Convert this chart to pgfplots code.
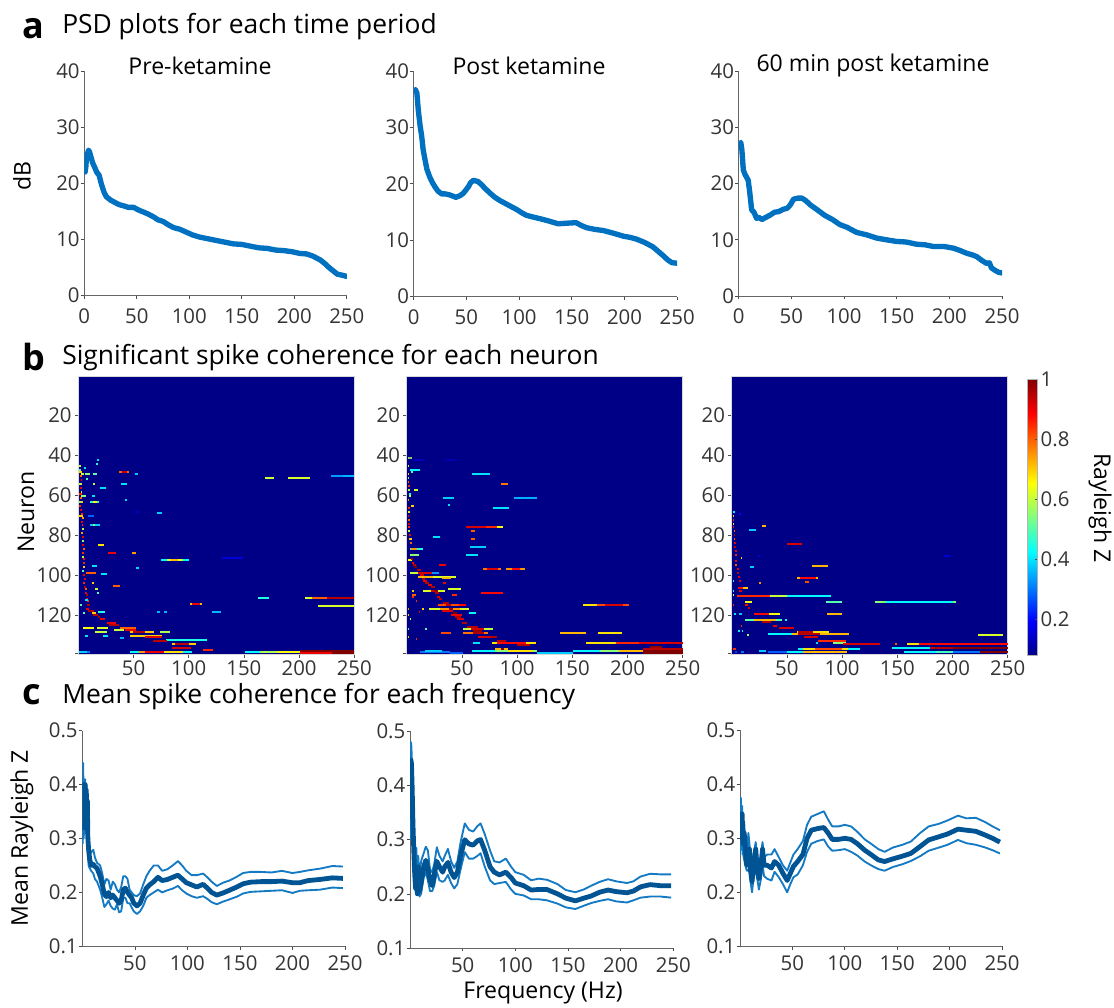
\documentclass[border=0pt]{standalone}
\usepackage{pgfplots}
\usepackage{pgfplotstable}
\usepackage{fontspec}
\setmainfont{Open Sans}
\pgfplotsset{compat=1.18}
\definecolor{psdc}{RGB}{0,112,192}
\definecolor{mdark}{RGB}{0,84,147}
\definecolor{mthin}{RGB}{20,122,196}
\definecolor{txt}{RGB}{52,52,52}
\definecolor{hbg}{RGB}{0,0,135}

% ---------- PSD
\pgfplotstableread{
x y
0.8 22.0
1.5 23.0
2 24.3
3 25.2
4 25.9
5 25.6
6 24.9
8 23.6
9.5 23.0
12 21.9
14 21.5
16.5 19.7
19 18.3
21 17.6
25 17.0
29 16.6
33 16.2
37 16.0
42 15.7
47 15.7
52 15.2
56 14.9
61 14.5
66 14.0
70 13.5
75 13.2
80 12.6
85 12.1
91 11.8
97 11.3
103 10.8
110 10.4
118 10.1
126 9.8
134 9.5
142 9.2
150 9.1
158 8.8
166 8.5
174 8.4
182 8.1
190 8.0
198 7.8
205 7.5
212 7.4
218 7.0
225 6.3
229 5.7
233 5.0
237 4.4
241 3.8
246 3.6
250 3.4
}\PsdA
\pgfplotstableread{
x y
0.5 36.5
1.6 36.7
3 36.1
4.4 33.0
6 30.4
7.6 28.4
9 26.0
10.7 24.3
12.5 22.6
15 21.3
17.5 20.3
20 19.5
23 18.7
26.5 18.2
30 18.2
34.5 18.0
40 17.6
44 17.9
47 18.3
50 19.0
52 19.5
54 20.2
56.6 20.6
61 20.4
64 19.9
67.6 19.2
72 18.4
77 17.6
82 17.0
88 16.4
93 15.9
98 15.4
103 14.8
107 14.4
113 14.1
120 13.8
128 13.4
137 12.9
145 13.0
154 13.1
159 12.6
164 12.2
172 11.9
180 11.7
190 11.2
199 10.7
205 10.5
211 10.2
219 9.6
227 8.8
232 8.0
237 7.2
241 6.5
245 6.0
250 5.9
}\PsdB
\pgfplotstableread{
x y
0.8 27.0
2 27.3
3 26.0
4.4 22.4
6 21.6
9 20.6
10.5 18.4
12.3 15.3
14.5 14.9
17 13.8
19 14.0
22 13.6
26 14.0
30 14.4
34 14.9
38 15.0
42 15.4
46 15.6
49 16.2
52 17.2
56 17.4
60 17.4
64 16.9
68 16.2
74 15.4
82 14.3
89 13.6
96 12.7
103 12.2
112 11.3
121 10.9
131 10.3
140 10.0
150 9.7
159 9.6
169 9.2
177 9.1
185 8.8
195 8.8
204 8.5
210 8.1
216.5 7.6
222 7.3
226 7.0
231 6.3
235.4 5.8
238 5.9
240 5.0
243 4.6
247 4.2
250 4.1
}\PsdC

% ---------- mean coherence
\pgfplotstableread{
x m u l
0.3 .33 .37 .29
0.8 .40 .44 .33
1.3 .32 .37 .30
1.8 .40 .41 .32
2.3 .33 .37 .31
2.8 .40 .41 .33
3.3 .32 .36 .31
3.8 .39 .40 .33
4.3 .33 .37 .32
4.8 .37 .38 .32
5.3 .30 .33 .27
6 .28 .30 .25
7 .262 .27 .245
8.5 .25 .275 .24
10.5 .252 .279 .235
12 .248 .265 .225
14 .245 .255 .22
17 .23 .25 .205
19 .215 .235 .19
21 .197 .215 .173
23 .192 .225 .178
25 .20 .222 .185
27 .19 .205 .175
29 .195 .22 .17
31 .19 .215 .168
33 .185 .205 .178
35 .18 .20 .163
37 .185 .21 .165
39 .205 .23 .19
41 .208 .23 .19
43 .20 .225 .18
45 .195 .205 .18
47 .19 .20 .172
49 .18 .195 .165
52 .175 .193 .16
55 .18 .198 .165
58 .195 .215 .175
61 .208 .23 .19
64 .214 .24 .195
68 .22 .25 .20
72 .228 .25 .205
76 .222 .24 .20
81 .224 .243 .204
86 .228 .25 .207
91 .232 .258 .212
95 .225 .25 .204
99 .218 .24 .198
104 .214 .232 .193
109 .21 .232 .19
115 .215 .235 .193
119 .208 .228 .188
123 .20 .22 .182
128 .195 .212 .178
134 .199 .218 .183
140 .204 .222 .187
147 .21 .229 .192
153 .216 .236 .198
160 .219 .238 .201
170 .22 .238 .202
180 .22 .237 .203
190 .221 .24 .204
200 .218 .236 .199
207 .218 .238 .203
215 .222 .241 .204
226 .224 .244 .205
238 .227 .249 .209
248 .226 .248 .208
}\CohA
\pgfplotstableread{
x m u l
0.3 .34 .38 .30
0.9 .447 .48 .39
1.4 .44 .47 .38
2 .40 .42 .35
2.8 .33 .35 .30
3.6 .28 .30 .25
4.5 .235 .26 .215
5.3 .21 .23 .205
6 .24 .285 .22
7 .20 .23 .205
7.8 .25 .27 .215
9 .205 .23 .195
10.5 .22 .26 .20
13 .25 .275 .23
15 .262 .287 .24
17 .245 .28 .225
19 .225 .245 .205
21 .215 .24 .205
23 .235 .255 .215
25.5 .26 .286 .24
28 .25 .27 .225
31 .24 .26 .222
33 .25 .27 .225
36 .258 .283 .235
39 .24 .26 .22
42 .23 .248 .21
45 .24 .26 .218
48 .27 .295 .245
52 .30 .33 .277
56 .292 .318 .265
60 .29 .315 .265
64 .298 .325 .27
67 .30 .33 .275
71 .28 .31 .25
76 .25 .28 .225
80 .24 .26 .218
85 .235 .258 .22
91 .24 .265 .222
96 .23 .25 .208
100 .22 .24 .20
108 .215 .235 .197
115 .207 .225 .19
122 .208 .228 .19
130 .208 .226 .188
140 .20 .218 .182
148 .192 .207 .175
157 .187 .203 .172
165 .192 .208 .178
172 .196 .215 .183
180 .203 .222 .187
188 .207 .227 .19
196 .204 .223 .186
206 .202 .22 .184
212 .205 .223 .188
219 .213 .232 .193
228 .217 .237 .195
238 .215 .236 .195
248 .215 .236 .193
}\CohB
\pgfplotstableread{
x m u l
0.3 .30 .33 .27
0.8 .345 .375 .31
1.4 .30 .33 .28
2 .345 .36 .30
3 .29 .31 .27
4 .31 .33 .26
5 .285 .29 .25
6.5 .25 .27 .24
8 .26 .31 .24
9 .28 .29 .25
10 .24 .26 .22
11.5 .22 .24 .20
13 .25 .27 .23
15 .28 .293 .255
16.5 .24 .26 .225
18 .225 .245 .205
20 .25 .27 .225
21.5 .28 .293 .25
23 .25 .265 .23
26 .25 .27 .225
30 .245 .27 .222
33 .257 .28 .238
37 .25 .265 .228
41 .235 .25 .215
45 .222 .24 .20
48 .235 .255 .215
51 .248 .27 .228
55 .257 .28 .233
60 .27 .295 .25
64 .30 .325 .275
68 .315 .34 .29
74 .318 .345 .295
80 .32 .35 .298
84 .31 .335 .285
88 .298 .322 .277
94 .298 .322 .278
100 .30 .325 .28
106 .298 .322 .275
112 .29 .312 .268
119 .278 .298 .257
125 .27 .29 .25
132 .26 .28 .243
138 .257 .275 .24
146 .262 .283 .247
155 .267 .288 .252
163 .272 .294 .258
172 .285 .31 .267
180 .297 .322 .277
190 .303 .327 .283
198 .308 .333 .288
208 .317 .342 .297
216 .315 .337 .291
225 .313 .338 .288
234 .306 .33 .283
241 .30 .322 .278
248 .293 .315 .272
}\CohC

% ---------- heat maps: from, to, neuron, Rayleigh Z
\pgfplotstableread{
a b n z
37 46 48 .8
40 44 48 .95
51 54 49 .38
2 5 49 .6
6 11 49 .55
13 17 49 .5
169 177 51 .6
190 210 51 .62
229 250 50 .33
240 250 50 .36
39 44 54 .4
13 15 54 .6
20 25 56 .4
5 7 46 .4
16 18 44 .45
17 18.5 42 .4
7 9 51.5 .5
2 7 60 .55
12 15 60 .4
11 19 63 .45
13 17 63 .65
42 44 62 .4
1 3 63 .55
71 76 68.5 .38
51 56 68 .13
9 14 70 .28
1 4 70 .7
11 20 74.5 .38
13 15 74.5 .55
18 23 85 .68
27 34 89 .9
49 52 89 .75
75 100 92.5 .42
80 95 92.5 .62
84 90 92.5 .72
130 149 91.5 .16
52 55 96.5 .4
12 17 95.5 .4
21 26 99.5 .4
7 16 99 .8
31 38 105.5 .8
12 14 104 .7
15 18 107 .6
17 19 109 .5
163 173 111.5 .45
205 250 111.5 .62
212 250 111.5 .8
225 250 111.5 .95
217 250 115.5 .62
101 112 114.5 .72
103 110 114.5 .9
71 74 118.5 .36
78 80 118.5 .36
121 129 118.5 .36
18 24 118.5 .45
4 14 126.5 .65
17 27 126.5 .62
74 83 128.5 .58
15 26 128.5 .6
32 41 127.5 .6
38 52 126.5 .8
42 52 127.5 .9
47 69 128.5 .7
50 60 128.5 .95
22 27 130.5 .4
6 9 130.5 .4
47 76 130.5 .7
60 76 131 .92
38 41 131.5 .35
79 117 132.5 .45
68 80 133 .95
85 107 134.5 .7
88 100 134.5 .95
85 102 136.5 .92
113 122 137.5 .85
47 103 138.5 .42
55 65 138.5 .75
60 78 138.5 .9
78 95 138.5 .68
151 201 138.5 .42
165 201 138.5 .58
180 201 138.5 .65
201 250 138 1
201 230 139 .9
230 250 139 1
1 8 138.5 .38
8 11 138.5 .3
1 2.5 45 .6
1 2.5 47 .5
1 3 48 .7
1.5 3 50 .8
2 3.5 52 .9
1 3 54 .6
1.5 3 56 .9
2 3.5 58 .6
1 3 59 .85
1.5 3 61 .8
2.5 4 63 .7
1 2.5 65 .85
1.5 3 67 .9
2 4 69 .85
3 5 71 .75
2.5 4 73 .9
3 4.5 75 .85
3 5 77 .6
2.5 4 79 .75
3.5 5 81 .9
3 5 83 .55
3.5 5 85 .9
4 6 87 .8
3 5 89 .85
3 5 91 .6
4 6 92 .9
4 6 94 .85
4.5 6 96 .7
3 5 98 .5
4 6 100 .9
5 7 102 .9
4.5 6.5 104 .85
5 7 106 .95
6 8 107 .8
6 8 109 .9
7 9 110 .95
7 9 112 .9
8 10 113 .85
8 10.5 115 .95
6 9 112.5 .4
7 10 117 .9
9 14 118 .95
12 16 119 .7
13 18 120 .95
18 20 121 .95
20 24 122 .9
26 34 124 .9
28 37 125 .95
1.5 3 115 .5
4 6 119 .5
}\HmA
\pgfplotstableread{
a b n z
1.5 5 41 .45
2.5 4 41 .75
6 16 42 .13
35 46 42 .12
3 12 47 .42
4 6 48 .5
59 75 49 .4
85 92 54 .78
7 10 57 .6
33 43 61 .38
97.5 118 61 .35
37 39 64.5 .4
78.5 93 66 .4
54 87 76 .65
54 78 76 .92
72 82 76 .85
58 62 78 .8
58 62 82 .8
24 30 81 .4
57 72 86 .38
54 65 90 .4
3 15 87 .45
4 9 87 .75
3 11 90 .55
1.5 5 92.5 .65
29 36 95 .9
69 85 97 .78
73 83 97 .92
90 107 97 .75
95 103 97 .88
3 29 99 .33
3 23 99 .6
10 23 99 .92
10.5 45 101 .62
10.5 24 101 .72
32 40 101.5 .72
33 36 104 .9
37 49 107 .62
15 35 108 .62
22 28 108 .92
41 46 110 .85
67 87 109 .88
5 8 110 .8
160 201 115 .68
172 201 115 .82
180 196 115 .92
20 56.5 117 .62
30 48 117 .75
44 54 115 .88
28 47 115 .82
56.5 63 119 .42
32 42 118 .92
40 50 120 .9
46 51 122 .95
139 162 129 .72
173 195 129 .68
31 40 129 .82
51 78 127 .6
58 70 127 .92
51 74 129 .78
60 70 129 .96
65 78 131 .92
60 66 134 .4
77 117 134 .68
82 108 134 .88
100 112 135 .95
162 250 134 .68
190 250 134 .85
210 250 134 .92
80 92 137 .72
85 88 137 1
12 39 138.5 .3
17 32 138 .38
39 51 139 .28
59 118 138 .42
80 118 138 .55
92 114 138 .68
118 151 139 .38
151 214 138 .42
175 214 138 .55
192 214 138 .72
214 250 138 1
214 250 137 .95
214 250 139 1
220 231 136 .98
1 2 45 .6
1 2.5 49 .7
1 2.5 51 .55
1 2.5 53 .8
1.5 3 55 .85
1.5 3 57 .6
2 4 59 .45
2 4 60 .6
1 2.5 62 .75
4 7 65 .7
1.5 3 66 .85
1 3 68 .6
1 2.5 70 .9
1.5 3 72 .8
1 3 74 .92
1 3 76 .85
1.5 3 78 .6
2 4 80 .9
2.5 5 82 .7
3 5 84 .8
4 6 92 .95
5 7 94 .9
6 8 95 .95
7 9 96 1
9 13 97.5 .95
12 16 100 .92
14 17 102 .95
15 18 103 .9
17 20 104 .95
19 23 105 .9
22 26 106 .95
25 28 108 .98
26 29 109 .95
27 30 111 .92
29 32 112 .95
33 38 114 .95
36 40 115 .95
38 42 117 .98
42 46 119 1
44 49 121 .95
46 52 122 .92
50 55 124 .95
55 65 126 .95
60 68 128 .98
75 82 131 .95
82 90 133 .95
5 6.5 108 .7
5 6.5 111 .85
8 9 113 .85
1 2 117 .75
14 15.5 117 .7
11 12 118.5 .9
1 2 120 .7
3 4 122 .6
17 18.5 127 .5
8 9.5 132 .85
1 2 127 .5
1 2 131 .7
}\HmB
\pgfplotstableread{
a b n z
1.5 3 68 .42
6.5 8 69 .2
1.5 2.5 70 .7
1.5 2.5 72 .85
1.5 2.5 74 .7
27.5 31 75.5 .72
1.5 2.5 76 .9
2 3 78 .8
16 22 77.5 .38
2 3 80 .95
2 3 82 .8
50 64 84.5 .92
2.5 3.5 84 .9
2.5 3.5 86 .95
3 4.5 88 .9
3 4.5 90 .85
8 9.5 91.5 .7
24 26 90.5 .15
192 199 90.5 .15
3 5 93 .9
3 5 95 .8
17 20 96 .38
5 6.5 97 .9
73 87 95.5 .72
5 7 99 .95
59 78 101.5 .72
62 76 101.5 .88
6 7.5 101 .9
1 2 103 .42
66 70 103.5 .82
7 8.5 103 .9
25 26.5 104 .75
6 15 106.5 .7
6 10 106.5 .88
7 9 108 .9
1 2 108 .42
5 90 110.5 .42
5 50 110.5 .6
5 35 110.5 .85
85 100 113.5 .5
12 18 113.5 .65
130 203 113.5 .55
140 200 113.5 .42
1 2 110 .6
12 15 115 .88
15 17 116.5 .92
1 1.8 115 .85
86 100 119.5 .72
20 44 119.5 .65
20 34 119.5 .88
7 9 119.5 .38
2.5 4 119.5 .4
12 46 122.5 .5
20 40 122.5 .72
27 36 123.5 .95
48 50 122.5 .42
37 41 125.5 .9
43 56 126.5 .92
8 9.5 125.5 .85
6 7.5 128 .42
9 10.5 128 .42
14 16 130 .55
33 106 129.5 .42
55 106 129.5 .72
60 80 129.5 .95
59 88 128.5 .68
60 74 128.5 .95
223 246 130 .62
65.5 78.5 131 .92
76 78 134 .4
78.5 103.5 133 .85
92 103.5 134 .55
101 134 134.5 .92
148 150 134.5 .8
158.5 250 134.5 .68
170 250 134.5 .88
145 179.5 136.5 .42
179.5 250 136.5 .95
200 250 136.5 1
60 116 137 .42
65 105 137 .68
75 100 137 .82
33 65 138.5 .28
50 65 138.5 .42
65 104 138.5 .72
156 225 138.5 .42
185 200 138.5 .48
200 225 138.5 .3
225 250 138.5 1
25 31 138 .38
1.5 4 137 .85
3 5 138.5 .25
8 11 138.5 .3
}\HmC

\pgfdeclareplotmark{hseg}{%
  \pgfpathrectangle{\pgfpoint{-\hw pt}{-0.75pt}}{\pgfpoint{2*\hw pt}{1.5pt}}%
  \pgfusepathqfill}

\pgfplotsset{
  colormap={mjet}{rgb255(0cm)=(0,0,135); rgb255(1cm)=(0,0,255); rgb255(3cm)=(0,255,255); rgb255(5cm)=(255,255,0); rgb255(7cm)=(255,0,0); rgb255(8cm)=(128,0,0)},
  basestyle/.style={
    scale only axis, anchor=south west,
    tick align=outside, major tick length=2.5pt,
    tick style={color=black!70, line width=0.5pt},
    ticklabel style={font=\fontsize{15.3}{18}\selectfont, text=txt},
    /pgf/number format/assume math mode=true,
    /pgf/number format/fixed,
    xmin=0, xmax=250,
  },
  lineax/.style={basestyle,
    axis x line*=bottom, axis y line*=left, axis line style={-, color=black!60, line width=0.75pt},
    xtick={0,50,100,150,200,250},
    y tick label style={xshift=2.5pt},
  },
  psd/.style={lineax, ymin=0, ymax=40, ytick={0,10,20,30,40}, x tick label style={yshift=-3.5pt}},
  coh/.style={lineax, ymin=0.1, ymax=0.5, ytick={.1,.2,.3,.4,.5},
    xtick={50,100,150,200,250}, x tick label style={yshift=-1pt},
    yticklabel style={/pgf/number format/precision=1,/pgf/number format/fixed zerofill}},
  heat/.style={basestyle, axis on top,
    axis background/.style={fill=hbg},
    axis line style={color=black!15, line width=0.5pt},
    y dir=reverse, ymin=0.5, ymax=139.5,
    xtick={50,100,150,200,250}, x tick label style={yshift=1.5pt},
    y tick label style={xshift=1pt},
    ytick={20,40,60,80,100,120,139}, yticklabels={20,40,60,80,100,120,{}},
    xtick pos=bottom, ytick pos=left,
    point meta min=0.08, point meta max=1, colormap name=mjet,
  },
  psdl/.style={psdc, line width=4pt, line join=round, line cap=round},
  mmean/.style={mdark, line width=3.6pt, line join=round},
  mband/.style={mthin, line width=1.4pt, line join=round},
  hm/.style={only marks, mark=hseg, point meta=explicit,
    scatter, scatter/use mapped color={draw=none, fill=mapped color},
    visualization depends on={(\thisrow{b}-\thisrow{a})*0.414 \as \hw}},
}
\newcommand{\hmplot}[1]{\addplot[hm] table[x expr={(\thisrow{a}+\thisrow{b})/2}, y=n, meta=z]{#1};}
\newcommand{\cohplot}[1]{
  \addplot[mband] table[x=x,y=u]{#1};
  \addplot[mband] table[x=x,y=l]{#1};
  \addplot[mmean] table[x=x,y=m]{#1};}

\begin{document}
\begin{tikzpicture}[x=0.75pt,y=-0.75pt]
\path[use as bounding box] (0,0) rectangle (1114,1007);

% ---- headings
\newcommand{\headfont}{\fontsize{19.8}{24}\selectfont}
\newcommand{\labfont}{\fontsize{17.3}{20}\selectfont}
\node[anchor=west,inner sep=0,font=\fontsize{27}{30}\selectfont\bfseries] at (22,29) {a};
\node[anchor=west,inner sep=0,font=\fontsize{27}{30}\selectfont\bfseries] at (22,357) {b};
\node[anchor=west,inner sep=0,font=\fontsize{27}{30}\selectfont\bfseries] at (22,695) {c};
\node[anchor=west,inner sep=0,font=\headfont] at (62,27) {PSD plots for each time period};
\node[anchor=west,inner sep=0,font=\headfont] at (62,358) {Significant spike coherence for each neuron};
\node[anchor=west,inner sep=0,font=\headfont] at (62,697) {Mean spike coherence for each frequency};

\node[font=\labfont] at (200,66) {Pre-ketamine};
\node[font=\labfont] at (529,66) {Post ketamine};
\node[font=\labfont] at (873,66) {60 min post ketamine};

\node[rotate=90,font=\labfont] at (22,176) {dB};
\node[rotate=90,font=\labfont] at (26,512) {Neuron};
\node[rotate=90,font=\labfont] at (22,838) {Mean Rayleigh Z};
\node[font=\labfont] at (543,993) {Frequency (Hz)};
\node[rotate=-90,font=\labfont] at (1100,508) {Rayleigh Z};

% ---- row a
\begin{axis}[psd, at={(84.3pt*0.75,-295.5pt*0.75)}, width=262.5pt*0.75, height=224.5pt*0.75]
\addplot[psdl] table[x=x,y=y]{\PsdA};
\end{axis}
\begin{axis}[psd, at={(413.7pt*0.75,-296.5pt*0.75)}, width=263.5pt*0.75, height=225.5pt*0.75]
\addplot[psdl] table[x=x,y=y]{\PsdB};
\end{axis}
\begin{axis}[psd, at={(738.7pt*0.75,-296pt*0.75)}, width=263.3pt*0.75, height=225pt*0.75]
\addplot[psdl] table[x=x,y=y]{\PsdC};
\end{axis}

% ---- row b
\begin{axis}[heat, at={(78.3pt*0.75,-654.3pt*0.75)}, width=276pt*0.75, height=277.6pt*0.75]
\hmplot{\HmA}
\end{axis}
\begin{axis}[heat, at={(406.7pt*0.75,-654.3pt*0.75)}, width=276pt*0.75, height=277.6pt*0.75]
\hmplot{\HmB}
\end{axis}
\begin{axis}[heat, at={(731.7pt*0.75,-654.3pt*0.75)}, width=276pt*0.75, height=277.6pt*0.75,
  colorbar, colorbar style={
    at={(1.0725,-0.005)}, anchor=south west,
    width=7.2pt, height=207.5pt,
    ytick={0.2,0.4,0.6,0.8,1},
    y dir=normal,
    major tick length=2pt, tick align=inside,
    ytick pos=right, yticklabel pos=right,
    axis line style={color=black!30},
    y tick label style={xshift=-1pt},
    yticklabel style={font=\fontsize{15.3}{18}\selectfont, text=txt},
    /pgf/number format/assume math mode=true,
  }]
\hmplot{\HmC}
\end{axis}

% ---- row c
\begin{axis}[coh, at={(82.3pt*0.75,-946.3pt*0.75)}, width=262.7pt*0.75, height=215.6pt*0.75]
\cohplot{\CohA}
\end{axis}
\begin{axis}[coh, at={(410pt*0.75,-948pt*0.75)}, width=263.3pt*0.75, height=216.7pt*0.75]
\cohplot{\CohB}
\end{axis}
\begin{axis}[coh, at={(740pt*0.75,-946.3pt*0.75)}, width=262pt*0.75, height=216pt*0.75]
\cohplot{\CohC}
\end{axis}
\end{tikzpicture}
\end{document}
